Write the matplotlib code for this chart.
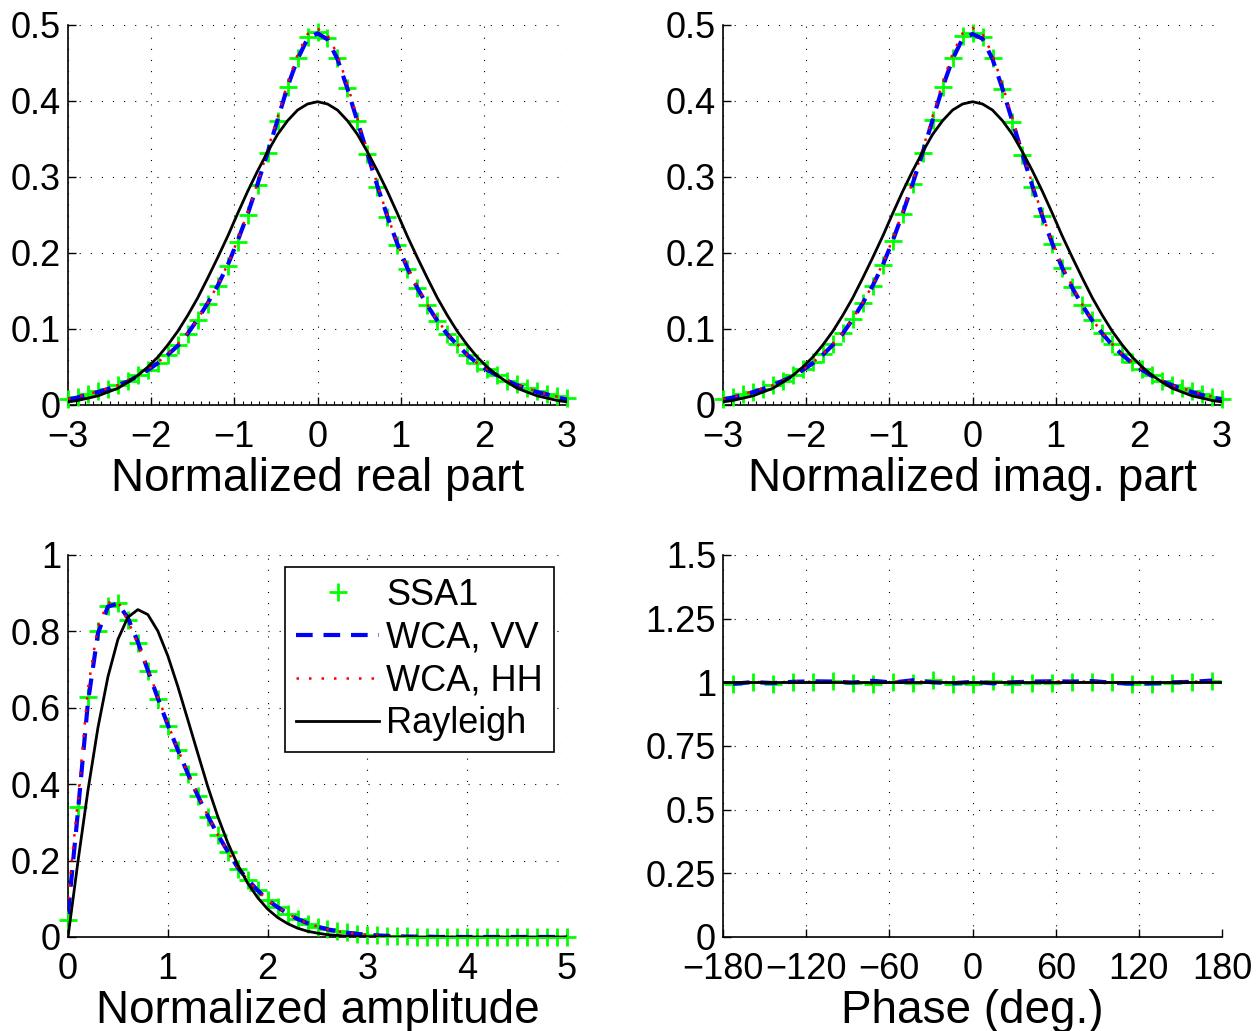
"""
Statistics of the normalized scattered field: SSA1 vs WCA (VV, HH) vs Rayleigh
Four panels: real part, imaginary part, amplitude, phase
"""

import numpy as np
import matplotlib.pyplot as plt
from matplotlib.ticker import FuncFormatter, MultipleLocator

plt.rcParams['font.family'] = ['Liberation Sans', 'DejaVu Sans']

# ---- data ----
# real / imaginary part: bins from -3 to 3 (51 bins)
x_part = np.linspace(-3, 3, 51)
ssa1_real = [0.008, 0.011, 0.014, 0.018, 0.021, 0.026, 0.032, 0.039, 0.046, 0.055,
             0.066, 0.079, 0.094, 0.112, 0.133, 0.156, 0.183, 0.215, 0.250, 0.290,
             0.331, 0.374, 0.418, 0.456, 0.484, 0.491,
             0.483, 0.457, 0.417, 0.373, 0.330, 0.287, 0.247, 0.211, 0.179, 0.154,
             0.131, 0.111, 0.094, 0.080, 0.066, 0.055, 0.047, 0.039, 0.032, 0.027,
             0.022, 0.018, 0.015, 0.012, 0.009]
vv_real = [0.007, 0.010, 0.014, 0.017, 0.021, 0.026, 0.031, 0.038, 0.046, 0.055,
           0.066, 0.078, 0.094, 0.113, 0.134, 0.157, 0.184, 0.216, 0.251, 0.291,
           0.332, 0.375, 0.419, 0.455, 0.482, 0.489,
           0.481, 0.455, 0.416, 0.373, 0.331, 0.288, 0.248, 0.212, 0.180, 0.154,
           0.131, 0.111, 0.093, 0.079, 0.066, 0.055, 0.046, 0.039, 0.032, 0.026,
           0.021, 0.017, 0.014, 0.010, 0.007]
hh_real = [0.008, 0.011, 0.014, 0.018, 0.022, 0.026, 0.032, 0.039, 0.047, 0.056,
           0.067, 0.080, 0.095, 0.113, 0.134, 0.158, 0.185, 0.217, 0.253, 0.293,
           0.335, 0.379, 0.423, 0.461, 0.488, 0.495,
           0.487, 0.461, 0.421, 0.377, 0.333, 0.290, 0.249, 0.213, 0.181, 0.155,
           0.132, 0.112, 0.094, 0.080, 0.066, 0.055, 0.047, 0.039, 0.032, 0.027,
           0.022, 0.018, 0.014, 0.011, 0.008]
ssa1_imag = [0.008, 0.011, 0.014, 0.017, 0.021, 0.026, 0.032, 0.039, 0.047, 0.056,
             0.067, 0.080, 0.095, 0.113, 0.134, 0.157, 0.184, 0.216, 0.251, 0.291,
             0.332, 0.375, 0.419, 0.457, 0.485, 0.490,
             0.484, 0.456, 0.416, 0.372, 0.329, 0.287, 0.248, 0.212, 0.180, 0.155,
             0.132, 0.112, 0.095, 0.080, 0.067, 0.056, 0.047, 0.039, 0.032, 0.026,
             0.022, 0.018, 0.014, 0.011, 0.008]
vv_imag = [0.007, 0.010, 0.013, 0.017, 0.021, 0.026, 0.032, 0.038, 0.046, 0.055,
           0.066, 0.079, 0.094, 0.113, 0.134, 0.157, 0.184, 0.216, 0.252, 0.291,
           0.332, 0.375, 0.418, 0.455, 0.482, 0.488,
           0.482, 0.455, 0.416, 0.373, 0.330, 0.288, 0.248, 0.212, 0.180, 0.154,
           0.131, 0.111, 0.094, 0.079, 0.066, 0.055, 0.046, 0.038, 0.031, 0.026,
           0.021, 0.017, 0.013, 0.010, 0.007]
hh_imag = [0.008, 0.011, 0.014, 0.018, 0.022, 0.026, 0.032, 0.039, 0.047, 0.056,
           0.067, 0.080, 0.095, 0.114, 0.135, 0.158, 0.186, 0.218, 0.254, 0.294,
           0.336, 0.380, 0.424, 0.462, 0.489, 0.496,
           0.488, 0.461, 0.421, 0.377, 0.333, 0.290, 0.250, 0.214, 0.182, 0.156,
           0.132, 0.112, 0.095, 0.080, 0.067, 0.056, 0.047, 0.039, 0.032, 0.026,
           0.022, 0.018, 0.014, 0.011, 0.008]
gauss_part = [0.004, 0.006, 0.009, 0.012, 0.017, 0.022, 0.030, 0.039, 0.050, 0.063,
              0.079, 0.097, 0.118, 0.141, 0.167, 0.194, 0.222, 0.252, 0.281, 0.308,
              0.333, 0.356, 0.374, 0.388, 0.396, 0.399,
              0.396, 0.388, 0.374, 0.356, 0.333, 0.308, 0.281, 0.252, 0.222, 0.194,
              0.167, 0.141, 0.118, 0.097, 0.079, 0.063, 0.050, 0.039, 0.030, 0.022,
              0.017, 0.012, 0.009, 0.006, 0.004]

# amplitude: bins 0..5 step 0.1
x_amp = np.linspace(0, 5, 51)
ssa1_amp = [0.045, 0.340, 0.627, 0.800, 0.867, 0.875, 0.830, 0.770, 0.695, 0.623,
            0.553, 0.490, 0.427, 0.368, 0.315, 0.266, 0.222, 0.179, 0.148, 0.122,
            0.096, 0.078, 0.061, 0.046, 0.035, 0.027, 0.021, 0.016, 0.012, 0.009,
            0.006, 0.004, 0.003, 0.002, 0.002, 0.001, 0.001, 0.001, 0.0, 0.0,
            0.0, 0.0, 0.0, 0.0, 0.0, 0.0, 0.0, 0.0, 0.0, 0.0, 0.0]
vv_amp = [0.060, 0.330, 0.615, 0.795, 0.865, 0.873, 0.835, 0.772, 0.698, 0.625,
          0.555, 0.490, 0.428, 0.370, 0.317, 0.268, 0.224, 0.182, 0.150, 0.122,
          0.097, 0.078, 0.061, 0.047, 0.036, 0.027, 0.020, 0.015, 0.011, 0.008,
          0.006, 0.004, 0.003, 0.002, 0.001, 0.001, 0.001, 0.0, 0.0, 0.0,
          0.0, 0.0, 0.0, 0.0, 0.0, 0.0, 0.0, 0.0, 0.0, 0.0, 0.0]
hh_amp = [0.100, 0.360, 0.650, 0.815, 0.875, 0.878, 0.828, 0.768, 0.700, 0.630,
          0.558, 0.492, 0.430, 0.372, 0.318, 0.268, 0.224, 0.182, 0.149, 0.121,
          0.097, 0.078, 0.061, 0.047, 0.036, 0.027, 0.020, 0.015, 0.011, 0.008,
          0.006, 0.004, 0.003, 0.002, 0.001, 0.001, 0.001, 0.0, 0.0, 0.0,
          0.0, 0.0, 0.0, 0.0, 0.0, 0.0, 0.0, 0.0, 0.0, 0.0, 0.0]
rayleigh_amp = [0.0, 0.198, 0.384, 0.548, 0.681, 0.779, 0.837, 0.857, 0.844, 0.801,
                0.736, 0.656, 0.569, 0.481, 0.394, 0.316, 0.247, 0.189, 0.141, 0.103,
                0.073, 0.051, 0.035, 0.023, 0.015, 0.010, 0.006, 0.004, 0.002, 0.001,
                0.001, 0.0, 0.0, 0.0, 0.0, 0.0, 0.0, 0.0, 0.0, 0.0,
                0.0, 0.0, 0.0, 0.0, 0.0, 0.0, 0.0, 0.0, 0.0, 0.0, 0.0]

# phase: 25 bins of 14.4 deg
x_phase = np.linspace(-172.8, 172.8, 25)
ssa1_phase = [0.992, 1.003, 0.995, 1.001, 1.002, 1.006, 0.996, 0.994, 1.002, 0.998,
              1.008, 0.995, 0.993, 1.004, 0.995, 0.997, 0.998, 1.002, 1.003, 1.002,
              0.993, 0.994, 0.998, 1.003, 1.004]
vv_phase = [0.994, 1.001, 0.997, 1.002, 1.004, 1.003, 0.999, 1.006, 0.999, 1.008,
            1.000, 0.996, 1.002, 0.996, 1.000, 1.003, 1.004, 1.003, 1.005, 0.998,
            0.995, 0.996, 1.000, 1.002, 1.007]
hh_phase = [0.997, 1.002, 0.999, 1.003, 1.002, 1.001, 1.004, 0.995, 1.003, 1.006,
            0.998, 1.002, 0.999, 0.998, 1.003, 1.001, 1.004, 1.002, 1.003, 0.999,
            0.998, 0.997, 1.001, 1.003, 1.002]
x_phase_ref = [-180, 180]
rayleigh_phase = [1.0, 1.0]

labels = ['SSA1', 'WCA, VV', 'WCA, HH', 'Rayleigh']

FS_TICK = 26
FS_LABEL = 33


def matlab_fmt(v, pos):
    # %g 格式, 负号用真正的减号
    return ('%g' % v).replace('-', '\u2212')


def draw_panel(ax, x, ssa1, vv, hh, ref, x_ref=None):
    """画四条曲线：SSA1标记、VV虚线、HH点线、理论曲线"""
    if x_ref is None:
        x_ref = x
    ax.plot(x, ssa1, '+', color=(0, 1, 0), ms=13, mew=2, clip_on=False,
            label=labels[0], zorder=3)
    ax.plot(x, vv, color=(0, 0, 1), lw=3, dashes=(4, 2.6), label=labels[1], zorder=4)
    ax.plot(x, hh, color=(1, 0, 0), lw=1.8, dashes=(1, 4), label=labels[2], zorder=5)
    ax.plot(x_ref, ref, color='k', lw=2, label=labels[3], zorder=6)


def style_axes(ax, xlim, ylim, xticks, yticks, xlabel):
    ax.set_xlim(xlim)
    ax.set_ylim(ylim)
    ax.set_xticks(xticks)
    ax.set_yticks(yticks)
    ax.yaxis.set_major_formatter(FuncFormatter(matlab_fmt))
    ax.xaxis.set_major_formatter(FuncFormatter(matlab_fmt))
    ax.grid(True, color='k', lw=0.8, linestyle=(0, (1, 9)))
    ax.set_axisbelow(True)
    for s in ['top', 'right']:
        ax.spines[s].set_visible(False)
    for s in ['left', 'bottom']:
        ax.spines[s].set_linewidth(1.2)
    ax.tick_params(direction='in', length=6, width=1, labelsize=FS_TICK)
    ax.tick_params(axis='x', pad=11)
    ax.tick_params(axis='y', pad=5)
    ax.set_xlabel(xlabel, fontsize=FS_LABEL, labelpad=1.5)


fig = plt.figure(figsize=(12.57, 10.31), dpi=100)
w = 0.397
h = 0.3686
ax1 = fig.add_axes([0.0541, 0.6072, w, h])
ax2 = fig.add_axes([0.5752, 0.6072, w, h])
ax3 = fig.add_axes([0.0541, 0.0912, w, 0.3705])
ax4 = fig.add_axes([0.5752, 0.0912, w, 0.3705])

# 实部
draw_panel(ax1, x_part, ssa1_real, vv_real, hh_real, gauss_part)
style_axes(ax1, (-3, 3), (0, 0.5), range(-3, 4), np.arange(0, 0.51, 0.1),
           'Normalized real part')
ax1.xaxis.set_minor_locator(MultipleLocator(0.1))
ax1.tick_params(axis='x', which='minor', direction='in', length=3, width=0.8)

# 虚部
draw_panel(ax2, x_part, ssa1_imag, vv_imag, hh_imag, gauss_part)
style_axes(ax2, (-3, 3), (0, 0.5), range(-3, 4), np.arange(0, 0.51, 0.1),
           'Normalized imag. part')
ax2.xaxis.set_minor_locator(MultipleLocator(0.1))
ax2.tick_params(axis='x', which='minor', direction='in', length=3, width=0.8)

# 幅度
draw_panel(ax3, x_amp, ssa1_amp, vv_amp, hh_amp, rayleigh_amp)
style_axes(ax3, (0, 5), (0, 1), range(0, 6), np.arange(0, 1.01, 0.2),
           'Normalized amplitude')
leg = ax3.legend(loc='upper right', bbox_to_anchor=(0.974, 0.969), borderaxespad=0,
                 fontsize=FS_TICK, numpoints=1, handlelength=2.3, handletextpad=0.2,
                 labelspacing=0.22, borderpad=0.3, fancybox=False, framealpha=1)
leg.get_frame().set_edgecolor('k')
leg.get_frame().set_linewidth(1.2)

# 相位
draw_panel(ax4, x_phase, ssa1_phase, vv_phase, hh_phase, rayleigh_phase, x_phase_ref)
style_axes(ax4, (-180, 180), (0, 1.5), range(-180, 181, 60), np.arange(0, 1.51, 0.25),
           'Phase (deg.)')

fig.savefig('out.png', dpi=100)
